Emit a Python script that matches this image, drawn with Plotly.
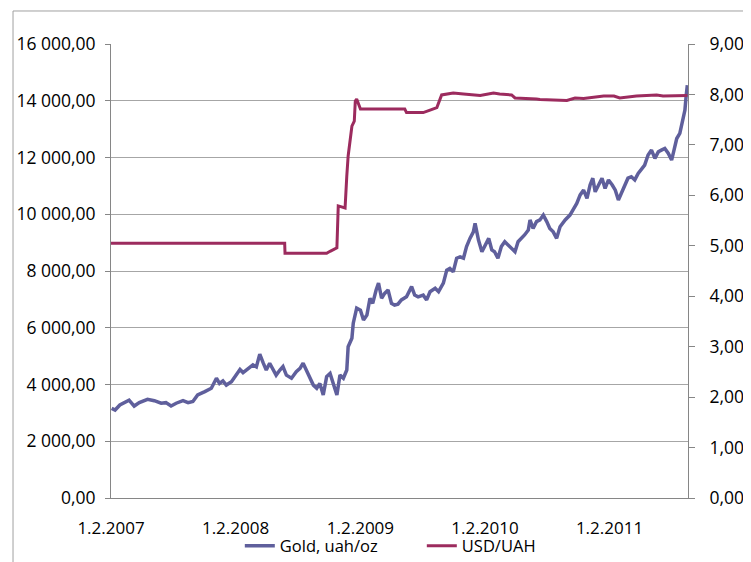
import plotly.graph_objects as go

# ---- Data ----
gold_dates = [
    "2007-02-03", "2007-02-13", "2007-02-27", "2007-03-12", "2007-03-26", "2007-04-10",
    "2007-04-25", "2007-05-19", "2007-06-08", "2007-06-28", "2007-07-12", "2007-07-27",
    "2007-08-11", "2007-08-31", "2007-09-15", "2007-09-29", "2007-10-13", "2007-11-03",
    "2007-11-22", "2007-12-07", "2007-12-16", "2007-12-26", "2008-01-05", "2008-01-20",
    "2008-02-05", "2008-02-14", "2008-02-23", "2008-03-08", "2008-03-23", "2008-04-02",
    "2008-04-12", "2008-04-22", "2008-05-01", "2008-05-11", "2008-05-20", "2008-05-30",
    "2008-06-10", "2008-06-19", "2008-06-29", "2008-07-14", "2008-07-28", "2008-08-08",
    "2008-08-17", "2008-08-27", "2008-09-06", "2008-09-16", "2008-09-26", "2008-10-05",
    "2008-10-15", "2008-10-25", "2008-11-04", "2008-11-14", "2008-11-24", "2008-12-03",
    "2008-12-13", "2008-12-23", "2008-12-27", "2009-01-07", "2009-01-11", "2009-01-21",
    "2009-02-01", "2009-02-10", "2009-02-20", "2009-03-01", "2009-03-09", "2009-03-19",
    "2009-03-26", "2009-04-04", "2009-04-13", "2009-04-23", "2009-05-03", "2009-05-12",
    "2009-05-22", "2009-06-01", "2009-06-16", "2009-07-01", "2009-07-10", "2009-07-20",
    "2009-08-04", "2009-08-14", "2009-08-24", "2009-09-08", "2009-09-18", "2009-10-02",
    "2009-10-12", "2009-10-21", "2009-10-31", "2009-11-10", "2009-11-20", "2009-11-30",
    "2009-12-09", "2009-12-19", "2009-12-29", "2010-01-03", "2010-01-13", "2010-01-23",
    "2010-02-02", "2010-02-12", "2010-02-21", "2010-03-01", "2010-03-11", "2010-03-21",
    "2010-03-31", "2010-04-10", "2010-04-20", "2010-04-30", "2010-05-09", "2010-05-19",
    "2010-05-28", "2010-06-08", "2010-06-13", "2010-06-22", "2010-07-02", "2010-07-12",
    "2010-07-22", "2010-08-01", "2010-08-10", "2010-08-20", "2010-08-30", "2010-09-09",
    "2010-09-24", "2010-10-08", "2010-10-18", "2010-10-28", "2010-11-07", "2010-11-17",
    "2010-11-27", "2010-12-06", "2010-12-14", "2010-12-21", "2010-12-31", "2011-01-10",
    "2011-01-19", "2011-01-29", "2011-02-09", "2011-02-18", "2011-02-27", "2011-03-08",
    "2011-03-17", "2011-03-27", "2011-04-06", "2011-04-16", "2011-04-26", "2011-05-05",
    "2011-05-15", "2011-05-25", "2011-06-04", "2011-06-14", "2011-06-24", "2011-07-03",
    "2011-07-13", "2011-07-23", "2011-08-02", "2011-08-09", "2011-08-17", "2011-08-26",
    "2011-09-05", "2011-09-10", "2011-09-13", "2011-09-17",
]
gold_uah_oz = [
    3160, 3100, 3280, 3360, 3450, 3240,
    3360, 3480, 3430, 3340, 3360, 3240,
    3340, 3430, 3360, 3400, 3630, 3750,
    3870, 4220, 4040, 4130, 3980, 4100,
    4390, 4530, 4420, 4570, 4690, 4620,
    5070, 4760, 4510, 4750, 4570, 4330,
    4510, 4630, 4330, 4220, 4450, 4570,
    4750, 4510, 4280, 3980, 3870, 4040,
    3630, 4280, 4390, 4040, 3630, 4330,
    4220, 4510, 5330, 5630, 6160, 6690,
    6620, 6270, 6450, 7040, 6860, 7330,
    7570, 7040, 7210, 7330, 6860, 6800,
    6830, 6980, 7090, 7450, 7150, 7090,
    7150, 6980, 7270, 7390, 7270, 7570,
    8030, 8090, 7970, 8450, 8500, 8450,
    8860, 9150, 9380, 9680, 9090, 8680,
    8920, 9150, 8740, 8680, 8450, 8860,
    9030, 8920, 8800, 8680, 9030, 9150,
    9270, 9440, 9800, 9500, 9740, 9800,
    9970, 9740, 9500, 9380, 9150, 9560,
    9800, 9970, 10150, 10380, 10680, 10850,
    10560, 11030, 11270, 10790, 11030, 11270,
    10910, 11210, 11030, 10850, 10500, 10740,
    11030, 11270, 11320, 11210, 11440, 11560,
    11730, 12090, 12260, 11970, 12200, 12260,
    12320, 12150, 11910, 12260, 12670, 12850,
    13320, 13670, 14090, 14550,
]

usd_dates = [
    "2007-02-01", "2008-06-24", "2008-06-25", "2008-10-25", "2008-11-04", "2008-11-24",
    "2008-11-28", "2008-12-18", "2008-12-23", "2008-12-27", "2009-01-07", "2009-01-14",
    "2009-01-17", "2009-01-21", "2009-02-01", "2009-06-11", "2009-06-16", "2009-08-04",
    "2009-08-24", "2009-09-13", "2009-09-27", "2009-10-31", "2009-11-30", "2010-01-18",
    "2010-02-26", "2010-03-16", "2010-04-20", "2010-04-30", "2010-07-02", "2010-07-12",
    "2010-09-29", "2010-10-23", "2010-11-17", "2011-01-15", "2011-02-14", "2011-03-03",
    "2011-04-21", "2011-06-19", "2011-07-08", "2011-09-17",
]
usd_uah = [
    5.05, 5.05, 4.85, 4.85, 4.89, 4.96,
    5.79, 5.75, 6.38, 6.78, 7.37, 7.47,
    7.87, 7.91, 7.71, 7.71, 7.64, 7.64,
    7.69, 7.74, 7.99, 8.03, 8.01, 7.98,
    8.03, 8.01, 7.99, 7.93, 7.91, 7.90,
    7.88, 7.93, 7.92, 7.97, 7.97, 7.93,
    7.97, 7.99, 7.97, 7.98,
]

x_tick_dates = ["2007-02-01", "2008-02-01", "2009-02-01", "2010-02-01", "2011-02-01"]
x_tick_labels = ["1.2.2007", "1.2.2008", "1.2.2009", "1.2.2010", "1.2.2011"]
x_range = ["2007-02-01", "2011-09-19"]

GOLD_COLOR = "#5F5F9C"
USD_COLOR = "#9C2B5E"
AXIS_COLOR = "#868686"
GRID_COLOR = "#A6A6A6"
FONT = "Open Sans"

fig = go.Figure()
fig.add_trace(go.Scatter(
    x=gold_dates, y=gold_uah_oz, name="Gold, uah/oz", mode="lines",
    line=dict(color=GOLD_COLOR, width=3.5), yaxis="y",
))
fig.add_trace(go.Scatter(
    x=usd_dates, y=usd_uah, name="USD/UAH", mode="lines",
    line=dict(color=USD_COLOR, width=3), yaxis="y2",
))

# The page body adds an 8px margin, so the figure is sized to fill the window.
fig.update_layout(
    template="none",
    width=743, height=554,
    margin=dict(l=103, r=63, t=36, b=64),
    paper_bgcolor="white", plot_bgcolor="white",
    separators=", ",
    font=dict(family=FONT, size=17, color="#000000"),
    showlegend=True,
    legend=dict(
        orientation="h", xref="container", yref="container",
        x=0.312, xanchor="left", y=0.029, yanchor="middle",
        font=dict(family=FONT, size=16.5, color="#000000"),
        bgcolor="rgba(0,0,0,0)", itemwidth=30, tracegroupgap=0,
        entrywidth=137,
    ),
    xaxis=dict(
        type="date", range=x_range, tickvals=x_tick_dates, ticktext=x_tick_labels,
        showgrid=False, showline=True, linecolor=AXIS_COLOR, linewidth=1,
        ticks="", zeroline=False, automargin=False, ticklabelstandoff=15,
        tickfont=dict(family=FONT, size=17, color="#000000"),
    ),
    yaxis=dict(
        range=[0, 16000], dtick=2000, tick0=0, tickformat=",.2f",
        showgrid=True, gridcolor=GRID_COLOR, gridwidth=1,
        showline=True, linecolor=AXIS_COLOR, linewidth=1,
        ticks="outside", ticklen=5, tickcolor=AXIS_COLOR,
        zeroline=False, automargin=False, ticklabelstandoff=6,
        tickfont=dict(family=FONT, size=17.5, color="#000000"),
    ),
    yaxis2=dict(
        range=[0, 9], dtick=1, tick0=0, tickformat=".4f",
        overlaying="y", side="right", showgrid=False,
        showline=True, linecolor=AXIS_COLOR, linewidth=1,
        ticks="outside", ticklen=6, tickcolor=AXIS_COLOR,
        zeroline=False, automargin=False, ticklabelstandoff=11,
        tickfont=dict(family=FONT, size=17.5, color="#000000"),
    ),
    shapes=[
        dict(type="line", xref="paper", yref="paper", x0=-0.1698, x1=-0.1698,
             y0=-0.3, y1=1.0727, line=dict(color="#A0A0A0", width=1)),
        dict(type="line", xref="paper", yref="paper", x0=-0.1698, x1=1.3,
             y0=1.0727, y1=1.0727, line=dict(color="#A0A0A0", width=1)),
    ],
)

fig.write_html("out.html")
